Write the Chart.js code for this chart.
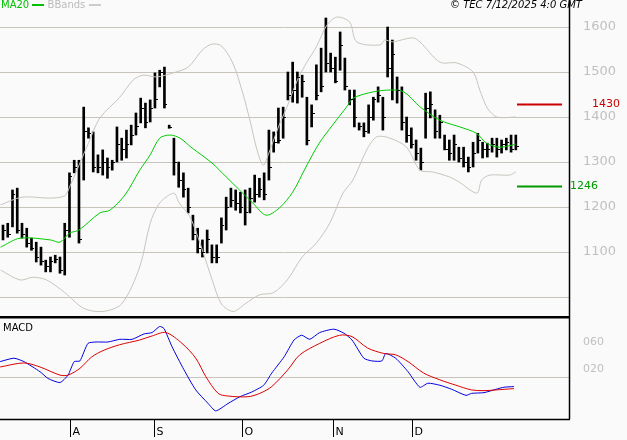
<!DOCTYPE html>
<html>
<head>
<meta charset="utf-8">
<script src="https://cdn.jsdelivr.net/npm/chart.js@4"></script>
<style>
  body { margin: 0; background: #fafafa; width: 627px; height: 440px; overflow: hidden; position: relative; font-family: "DejaVu Sans", sans-serif; }
  #priceChart { position: absolute; left: 0; top: 0; }
  #macdChart { position: absolute; left: 0; top: 316px; }
  .lbl { position: absolute; font-size: 10px; white-space: nowrap; }
</style>
</head>
<body>
<canvas id="priceChart" width="627" height="316"></canvas>
<canvas id="macdChart" width="627" height="124"></canvas>
<div class="lbl" style="left:1px;top:-1px;color:#00c000">MA20 <span style="display:inline-block;width:12px;border-top:2px solid #00c000;vertical-align:middle"></span> <span style="color:#bbb">BBands <span style="display:inline-block;width:12px;border-top:2px solid #ccc;vertical-align:middle"></span></span></div>
<div class="lbl" style="left:450px;top:-1px;font-style:italic;color:#000">© TEC 7/12/2025 4:0 GMT</div>
<div class="lbl" style="left:3px;top:322px;color:#000">MACD</div>
<script>
// daily bars, index = trading day
const highs = [1160,1164,1238,1242,1164,1153,1131,1122,1111,1082, 1089,1093,1089,1164,1276,1304,1304,1422,1376,1367,
  1316,1327,1309,1304,1378,1353,1371,1382,1409,1442, 1431,1438,1498,1504,1511,1382,1353,1300,1276,1242,
  1182,1153,1127,1149,1116,1116,1176,1222,1242,1238, 1233,1238,1242,1271,1264,1276,1371,1367,1420,1422,
  1500,1522,1500,1493,1444,1427,1516,1553,1620,1542, 1533,1589,1531,1460,1460,1387,1387,1427,1444,1467,
  1444,1600,1571,1489,1467,1400,1376,1349,1331,1453, 1456,1416,1404,1360,1349,1360,1333,1333,1311,1344,
  1364,1344,1342,1353,1353,1349,1353,1360,1360];
const lows = [1127,1133,1156,1142,1131,1111,1104,1078,1071,1056, 1056,1076,1053,1049,1133,1276,1120,1260,1353,1278,
  1276,1271,1264,1282,1300,1304,1309,1338,1360,1387, 1376,1389,1420,1467,1420,1375,1271,1244,1222,1187,
  1127,1098,1089,1098,1076,1076,1120,1149,1200,1193, 1187,1160,1187,1211,1222,1216,1260,1322,1342,1353,
  1438,1433,1431,1444,1338,1378,1438,1456,1500,1500, 1476,1504,1460,1427,1378,1371,1356,1364,1393,1433,
  1371,1489,1438,1431,1371,1344,1331,1304,1282,1353, 1398,1353,1353,1327,1304,1304,1300,1289,1278,1289,
  1320,1309,1311,1322,1311,1320,1327,1322,1327];
const closes = [1150,1140,1230,1150,1140,1120,1110,1090,1080,1070, 1080,1085,1060,1150,1270,1290,1130,1370,1365,1290,
  1290,1300,1290,1300,1340,1330,1340,1360,1380,1420, 1390,1420,1440,1500,1430,1378,1300,1260,1240,1200,
  1140,1110,1100,1130,1090,1090,1160,1200,1215,1210, 1200,1190,1220,1230,1240,1230,1290,1345,1350,1400,
  1450,1460,1490,1480,1350,1410,1450,1470,1520,1510, 1480,1560,1470,1440,1400,1380,1370,1400,1440,1450,
  1400,1510,1540,1460,1390,1360,1340,1320,1300,1420, 1430,1370,1390,1330,1320,1340,1310,1300,1290,1320,
  1350,1330,1330,1340,1330,1340,1345,1330,1335];

// indicator lines as [day index, value]
const ma20 = [[-0.5,1111],[3.6,1131],[10,1127],[12,1122],[14,1142],[16,1149],[20.4,1187],[22.5,1193],[25.7,1227],
  [28.8,1282],[31,1316],[33,1353],[35.2,1360],[37.3,1353],[39.6,1333],[44,1298],[47,1267],[49.8,1238],[52.6,1209],
  [55.4,1182],[58.2,1198],[61,1233],[63.8,1289],[66.6,1342],[69.4,1382],[72.2,1420],[73.8,1442],[78,1456],
  [81.6,1460],[84.4,1456],[87.9,1422],[92,1393],[96.2,1378],[99.7,1364],[101.8,1342],[104.6,1333],[107.4,1338],[108,1340]];
const bbUpper = [[-0.5,1205],[4,1222],[10,1220],[13,1225],[14,1244],[18,1342],[20.4,1398],[24.6,1444],[27.4,1482],
  [29.5,1493],[32.4,1489],[35.8,1498],[39,1511],[42,1549],[44,1562],[46,1558],[48.4,1520],[50.5,1453],[52,1393],
  [53.5,1327],[54.8,1293],[56,1320],[58,1378],[59.8,1422],[62,1482],[64,1522],[66,1556],[68.2,1604],[70.3,1622],
  [73,1611],[74.5,1567],[79.4,1560],[80.4,1571],[82,1567],[86.3,1576],[87.8,1567],[92,1522],[95.6,1520],[99,1500],
  [100.4,1460],[102,1420],[104,1400],[108,1400]];
const bbLower = [[-0.5,1060],[3.6,1038],[6.3,1044],[9.2,1038],[13,1010],[17,975],[21,968],[25,985],[28.8,1067],
  [31,1164],[33,1209],[36,1231],[37,1211],[39.4,1178],[42,1104],[44,1040],[46,985],[48.5,968],[51,985],[54,1005],
  [57,1010],[60,1040],[63,1089],[66,1120],[68.8,1164],[71.6,1231],[73.7,1260],[76.6,1327],[78.7,1356],[81.5,1353],
  [85,1333],[87.8,1282],[90.5,1278],[94,1267],[96,1256],[99.8,1231],[100.8,1260],[102.5,1271],[106.7,1271],[108,1278]];
const macdLine = [[-0.6,0.31],[2.3,0.36],[4.4,0.31],[7.8,0.16],[9.5,0.06],[12,0.0],[13.7,0.11],[15,0.31],[16.2,0.32],
  [17.9,0.58],[19.6,0.60],[22.1,0.60],[24.6,0.64],[27.2,0.64],[29.7,0.72],[31.4,0.74],[33,0.83],[33.9,0.80],
  [35.6,0.53],[38.1,0.19],[40.6,-0.11],[43.2,-0.31],[44.8,-0.42],[47.4,-0.31],[49.9,-0.21],[52.4,-0.14],[54.9,-0.04],
  [56.6,0.14],[59.2,0.38],[61.3,0.63],[62.9,0.70],[64.6,0.64],[66.7,0.74],[69.7,0.79],[71.8,0.73],[73.5,0.63],
  [76,0.36],[77.7,0.32],[79.8,0.32],[80.6,0.43],[82.7,0.36],[85.3,0.16],[87.8,-0.07],[89.5,-0.01],[92,-0.04],
  [94.5,-0.10],[97.5,-0.19],[98.7,-0.16],[101.3,-0.15],[103.8,-0.10],[105.5,-0.07],[107.6,-0.06]];
const signalLine = [[-0.6,0.23],[4.4,0.29],[7.8,0.23],[12,0.11],[13.7,0.11],[16.2,0.21],[18.7,0.38],[21.3,0.48],
  [24.6,0.56],[28.8,0.63],[31.4,0.69],[34.3,0.74],[37.7,0.58],[40.6,0.36],[42.7,0.09],[45.3,-0.16],[47.4,-0.20],
  [51.6,-0.21],[54.1,-0.16],[56.6,-0.06],[60,0.19],[62.5,0.41],[66.7,0.58],[70.9,0.70],[73.5,0.68],[76.8,0.51],
  [80.2,0.43],[82.7,0.41],[85.3,0.31],[88.6,0.14],[92,0.04],[95.4,-0.04],[98.7,-0.11],[101.3,-0.12],[103.8,-0.11],[107.6,-0.09]];

const priceTicks = [1000, 1100, 1200, 1300, 1400, 1500, 1600];
const priceTickLabels = ['', '1100', '1200', '1300', '1400', '1500', '1600'];
const macdTicks = [0.2, 0.6];
const macdTickLabels = ['020', '060'];
const macdZero = 0.077;
const monthLabels = ['A', 'S', 'O', 'N', 'D'];
const monthPos = [14.2, 31.8, 50.3, 69.4, 86.2];
const levels = [{ v: 1430, label: '1430', color: '#cc0000', lx: 592 }, { v: 1246, label: '1246', color: '#009900', lx: 570 }];

const X_MIN = -0.63, X_MAX = 119.2;
const toXY = arr => arr.map(p => ({ x: p[0], y: p[1] }));

const fixWidth = s => { s.width = 58; };

function drawAxisLabels(ctx, y, vals, labels, size) {
  ctx.fillStyle = '#c0c0c0';
  ctx.font = size + 'px "DejaVu Sans"';
  ctx.textBaseline = 'middle';
  vals.forEach((v, i) => ctx.fillText(labels[i], 583, y.getPixelForValue(v)));
}

const priceExtras = {
  id: 'priceExtras',
  afterDatasetsDraw(chart) {
    const { ctx, scales: { x, y }, chartArea } = chart;
    ctx.save();
    ctx.strokeStyle = '#000';
    ctx.lineWidth = 1;
    closes.forEach((c, i) => {
      const px = Math.round(x.getPixelForValue(i));
      const py = Math.round(y.getPixelForValue(c)) + 0.5;
      ctx.beginPath(); ctx.moveTo(px, py); ctx.lineTo(px + 3, py); ctx.stroke();
    });
    drawAxisLabels(ctx, y, priceTicks, priceTickLabels, 13);
    levels.forEach(l => {
      const py = Math.round(y.getPixelForValue(l.v)) + 0.5;
      ctx.strokeStyle = l.color; ctx.lineWidth = 2;
      ctx.beginPath(); ctx.moveTo(517, py); ctx.lineTo(562, py); ctx.stroke();
      ctx.fillStyle = l.color; ctx.font = '11px "DejaVu Sans"'; ctx.textBaseline = 'middle';
      ctx.fillText(l.label, l.lx, py);
    });
    ctx.strokeStyle = '#000'; ctx.lineWidth = 1.5;
    ctx.beginPath(); ctx.moveTo(chartArea.right + 0.5, 0); ctx.lineTo(chartArea.right + 0.5, chart.height); ctx.stroke();
    ctx.restore();
  }
};

new Chart(document.getElementById('priceChart'), {
  data: {
    datasets: [
      { type: 'line', data: toXY(bbUpper), borderColor: '#c8c4bc', borderWidth: 1, pointRadius: 0, tension: 0.3 },
      { type: 'line', data: toXY(bbLower), borderColor: '#c8c4bc', borderWidth: 1, pointRadius: 0, tension: 0.3 },
      { type: 'line', data: toXY(ma20), borderColor: '#00cc00', borderWidth: 1, pointRadius: 0, tension: 0.3 },
      { type: 'bar', data: highs.map((h, i) => ({ x: i, y: [lows[i], h] })), backgroundColor: '#000', barThickness: 2 }
    ]
  },
  options: {
    responsive: false, animation: false, devicePixelRatio: 1,
    layout: { padding: 0 },
    plugins: { legend: { display: false }, tooltip: { enabled: false } },
    scales: {
      x: { type: 'linear', min: X_MIN, max: X_MAX, display: false, offset: false },
      y: {
        position: 'right', min: 958, max: 1660, afterFit: fixWidth,
        afterBuildTicks: s => { s.ticks = priceTicks.map(v => ({ value: v })); },
        border: { display: false },
        grid: { color: '#c8c4bc', drawTicks: false },
        ticks: { display: false }
      }
    }
  },
  plugins: [priceExtras]
});

const macdExtras = {
  id: 'macdExtras',
  afterDraw(chart) {
    const { ctx, scales: { x, y }, chartArea } = chart;
    ctx.save();
    drawAxisLabels(ctx, y, macdTicks, macdTickLabels, 11);
    ctx.strokeStyle = '#000';
    ctx.lineWidth = 3;
    ctx.beginPath(); ctx.moveTo(0, 1); ctx.lineTo(chartArea.right + 1, 1); ctx.stroke();
    ctx.lineWidth = 1.5;
    ctx.beginPath(); ctx.moveTo(chartArea.right + 0.5, 0); ctx.lineTo(chartArea.right + 0.5, chartArea.bottom); ctx.stroke();
    ctx.beginPath(); ctx.moveTo(0, chartArea.bottom + 0.5); ctx.lineTo(chartArea.right + 1, chartArea.bottom + 0.5); ctx.stroke();
    ctx.lineWidth = 1;
    ctx.fillStyle = '#000'; ctx.font = '11px "DejaVu Sans"'; ctx.textBaseline = 'top';
    monthPos.forEach((m, i) => {
      const px = Math.round(x.getPixelForValue(m)) + 0.5;
      ctx.beginPath(); ctx.moveTo(px, chartArea.bottom); ctx.lineTo(px, chartArea.bottom + 18); ctx.stroke();
      ctx.fillText(monthLabels[i], px + 2, chartArea.bottom + 8);
    });
    ctx.restore();
  }
};

new Chart(document.getElementById('macdChart'), {
  data: {
    datasets: [
      { type: 'line', data: toXY(signalLine), borderColor: '#dd0000', borderWidth: 1, pointRadius: 0, tension: 0.3 },
      { type: 'line', data: toXY(macdLine), borderColor: '#0000dd', borderWidth: 1, pointRadius: 0, tension: 0.2 }
    ]
  },
  options: {
    responsive: false, animation: false, devicePixelRatio: 1,
    layout: { padding: { top: 0, bottom: 21 } },
    plugins: { legend: { display: false }, tooltip: { enabled: false } },
    scales: {
      x: { type: 'linear', min: X_MIN, max: X_MAX, display: false },
      y: {
        position: 'right', min: -0.54, max: 0.985, afterFit: fixWidth,
        afterBuildTicks: s => { s.ticks = [{ value: macdZero }]; },
        border: { display: false },
        grid: { drawTicks: false, color: '#c8c4bc' },
        ticks: { display: false }
      }
    }
  },
  plugins: [macdExtras]
});
</script>
</body>
</html>
